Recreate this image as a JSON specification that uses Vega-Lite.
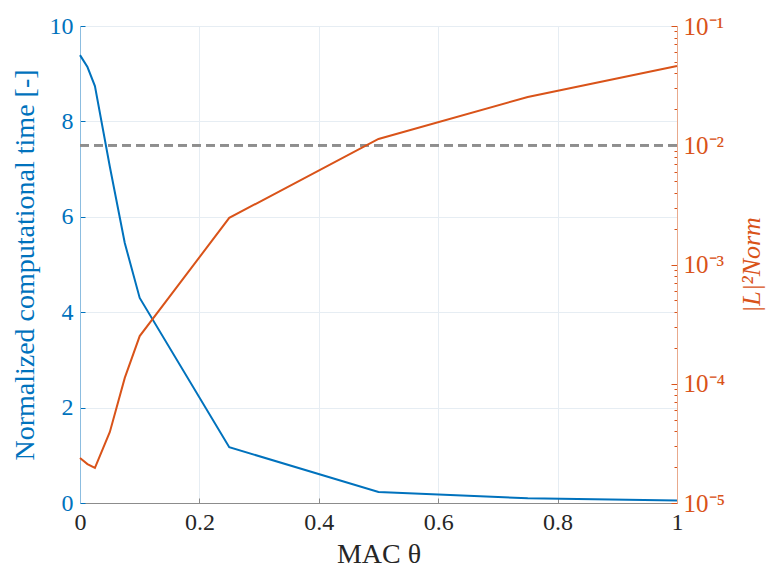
{
  "$schema": "https://vega.github.io/schema/vega-lite/v6.json",
  "width": 597,
  "height": 477,
  "autosize": "none",
  "padding": {"left": 80, "top": 26, "right": 91, "bottom": 70},
  "background": "white",
  "config": {
    "font": "Liberation Serif",
    "view": {"stroke": "#e4e8ec"},
    "axis": {"gridColor": "#e6edf3", "gridOpacity": 1, "labelFontSize": 24, "titleFontSize": 28, "titleFontWeight": "normal", "labelFont": "Liberation Serif", "titleFont": "Liberation Serif"}
  },
  "data": {
    "values": [
      {"theta": 0, "time": 9.39, "norm": 2.38e-5},
      {"theta": 0.0125, "time": 9.14, "norm": 2.12e-5},
      {"theta": 0.025, "time": 8.74, "norm": 1.97e-5},
      {"theta": 0.05, "time": 7.05, "norm": 3.94e-5},
      {"theta": 0.075, "time": 5.45, "norm": 1.12e-4},
      {"theta": 0.1, "time": 4.3, "norm": 2.51e-4},
      {"theta": 0.25, "time": 1.17, "norm": 2.46e-3},
      {"theta": 0.5, "time": 0.23, "norm": 1.13e-2},
      {"theta": 0.75, "time": 0.1, "norm": 2.54e-2},
      {"theta": 1, "time": 0.05, "norm": 4.62e-2}
    ]
  },
  "layer": [
    {
      "layer": [
        {
          "mark": {"type": "line", "color": "#0072BD", "strokeWidth": 2},
          "encoding": {
            "x": {
              "field": "theta", "type": "quantitative",
              "scale": {"domain": [0, 1], "nice": false},
              "axis": {"title": "MAC θ", "values": [0, 0.2, 0.4, 0.6, 0.8, 1], "format": "~g", "labelColor": "#262626", "titleColor": "#262626", "domainColor": "#8c8c8c", "tickColor": "#8c8c8c", "tickSize": -5, "labelPadding": 12, "titlePadding": 6, "labelFlush": false}
            },
            "y": {
              "field": "time", "type": "quantitative",
              "scale": {"domain": [0, 10], "nice": false, "zero": true},
              "axis": {"title": "Normalized computational time [-]", "values": [0, 2, 4, 6, 8, 10], "labelColor": "#0072BD", "titleColor": "#0072BD", "domainColor": "#8cbde0", "tickColor": "#0072BD", "tickSize": -5, "labelPadding": 12, "titlePadding": 10}
            }
          }
        },
        {
          "mark": {"type": "rule", "color": "#8f8f8f", "strokeDash": [9, 5], "strokeWidth": 2},
          "encoding": {"y": {"datum": 7.5, "type": "quantitative"}}
        }
      ]
    },
    {
      "mark": {"type": "line", "color": "#D95319", "strokeWidth": 2},
      "encoding": {
        "x": {"field": "theta", "type": "quantitative"},
        "y": {
          "field": "norm", "type": "quantitative",
          "scale": {"type": "log", "domain": [1e-5, 0.1], "nice": false},
          "axis": {
            "orient": "right", "grid": false,
            "title": "|L|²Norm", "titleFontStyle": "italic", "titleAngle": 270, "titleColor": "#D95319", "titlePadding": 40, "titleFontSize": 26,
            "values": [1e-5, 2e-5, 3e-5, 4e-5, 5e-5, 6e-5, 7e-5, 8e-5, 9e-5, 1e-4, 2e-4, 3e-4, 4e-4, 5e-4, 6e-4, 7e-4, 8e-4, 9e-4, 1e-3, 2e-3, 3e-3, 4e-3, 5e-3, 6e-3, 7e-3, 8e-3, 9e-3, 1e-2, 2e-2, 3e-2, 4e-2, 5e-2, 6e-2, 7e-2, 8e-2, 9e-2, 1e-1],
            "labelExpr": "indexof([1e-5,1e-4,1e-3,1e-2,1e-1], datum.value) >= 0 ? '10⁻' + ['⁵','⁴','³','²','¹'][indexof([1e-5,1e-4,1e-3,1e-2,1e-1], datum.value)] : ''",
            "labelColor": "#D95319", "domainColor": "#e9a98c", "tickColor": "#D95319",
            "tickSize": {"condition": {"test": "indexof([1e-5,1e-4,1e-3,1e-2,1e-1], datum.value) >= 0", "value": -6}, "value": -3},
            "labelPadding": 12, "labelFontSize": 25
          }
        }
      }
    }
  ],
  "resolve": {"scale": {"y": "independent"}}
}
